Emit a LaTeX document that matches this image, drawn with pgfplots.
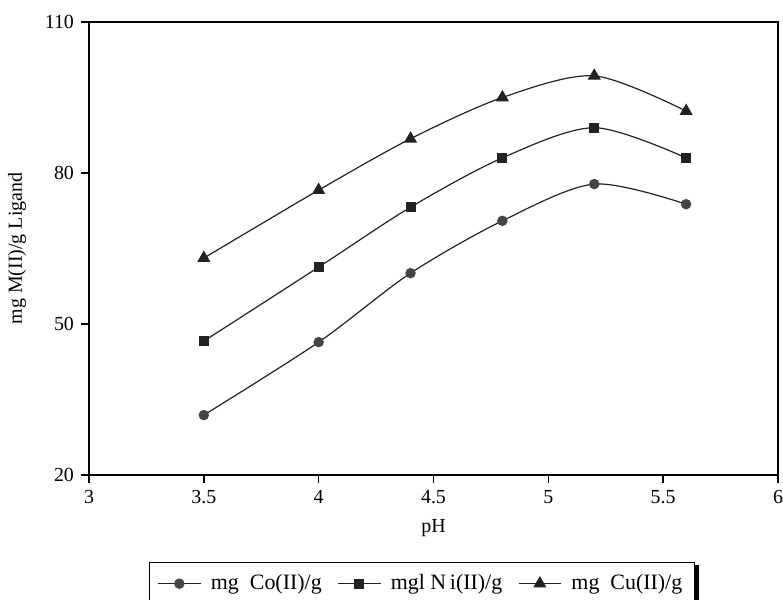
\documentclass[border=0pt]{standalone}
\usepackage{pgfplots}
\pgfplotsset{compat=1.18}
\usepackage{fontspec}
\setmainfont{Liberation Serif}

\definecolor{linegray}{HTML}{222222}
\definecolor{dotgray}{HTML}{454545}

\begin{document}
\begin{tikzpicture}
    \begin{axis}[
        scale only axis,
        width=344.5bp,
        height=226.5bp,
        xmin=3,xmax=6,
        ymin=20,ymax=110,
        xtick={3,3.5,...,6},
        ytick={20,50,80,110},
        xticklabels={3,3.5,4,4.5,5,5.5,6},
        tick pos=left,
        tick align=outside,
        major tick length=4bp,
        axis line style={line width=0.7bp},
        tick style={line width=0.7bp,black},
        tick label style={font=\fontsize{10}{12}\selectfont},
        /pgf/number format/assume math mode=true,
        label style={font=\fontsize{10}{12}\selectfont},
        xlabel={pH},
        ylabel={mg M(II)/g Ligand},
        xlabel style={at={(axis description cs:0.5,-0.117)},anchor=center},
        ylabel style={at={(axis description cs:-0.1045,0.5)},anchor=center},
        clip=false,
        legend columns=3,
        legend style={
            name=leg,
            at={(axis description cs:0.4833,-0.192)},anchor=north,
            draw=black,line width=0.6bp,fill=white,
            font=\fontsize{11}{13}\selectfont,
            inner xsep=4bp,inner ysep=4bp,
            /tikz/every odd column/.append style={column sep=3bp},
            /tikz/every even column/.append style={column sep=6bp}},
        legend image code/.code={
            \draw[mark repeat=2,mark phase=2]
                plot coordinates {(0bp,0bp) (10.5bp,0bp) (21bp,0bp)};},
        every axis plot/.append style={line width=0.6bp,smooth}
    ]

        \addplot[linegray,mark=*,mark size=2.3bp,
                 mark options={fill=dotgray,draw=dotgray}]
            coordinates {(3.5,31.9) (4.0,46.4) (4.4,60.1)
                         (4.8,70.5) (5.2,77.8) (5.6,73.8)};
        \addlegendentry{mg\ \ Co(II)/g}

        \addplot[linegray,mark=square*,mark size=2.2bp,
                 mark options={fill=linegray,draw=linegray}]
            coordinates {(3.5,46.6) (4.0,61.3) (4.4,73.2)
                         (4.8,83.0) (5.2,89.0) (5.6,83.0)};
        \addlegendentry{mgl N\,i(II)/g}

        \addplot[linegray,mark=triangle*,mark size=3.2bp,
                 mark options={fill=linegray,draw=linegray}]
            coordinates {(3.5,63.1) (4.0,76.6) (4.4,86.8)
                         (4.8,95.0) (5.2,99.3) (5.6,92.3)};
        \addlegendentry{mg\ \ Cu(II)/g}
    \end{axis}
    % heavy rule on the legend's right side
    \fill[black] ([yshift=-1.5bp]leg.north east) rectangle
        ([xshift=2.2bp]leg.south east);
    \pgfresetboundingbox
    \path[use as bounding box] (-44.5bp,-62.5bp) rectangle (347bp,237.5bp);
\end{tikzpicture}
\end{document}
